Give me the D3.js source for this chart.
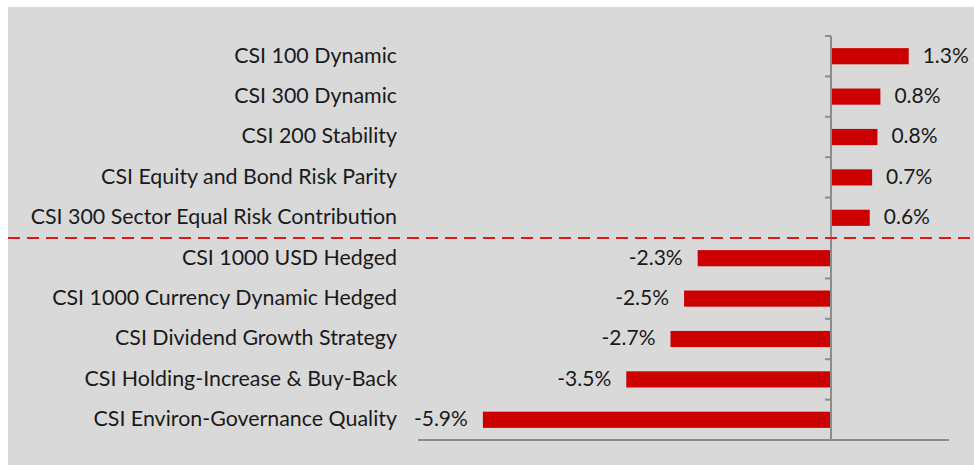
<!DOCTYPE html>
<html>
<head>
<meta charset="utf-8">
<script src="https://cdn.jsdelivr.net/npm/d3@7"></script>
<style>
  html, body { margin: 0; padding: 0; background: #ffffff; }
  svg { display: block; }
  text { font-family: Lato, "Open Sans", sans-serif; fill: #1a1a1a; }
</style>
</head>
<body>
<svg id="chart" width="974" height="465"></svg>
<script>
const categories = [
  "CSI 100 Dynamic",
  "CSI 300 Dynamic",
  "CSI 200 Stability",
  "CSI Equity and Bond Risk Parity",
  "CSI 300 Sector Equal Risk Contribution",
  "CSI 1000 USD Hedged",
  "CSI 1000 Currency Dynamic Hedged",
  "CSI Dividend Growth Strategy",
  "CSI Holding-Increase & Buy-Back",
  "CSI Environ-Governance Quality"
];
const values = [1.30, 0.82, 0.77, 0.68, 0.64, -2.26, -2.49, -2.72, -3.47, -5.90];
const valueLabels = ["1.3%", "0.8%", "0.8%", "0.7%", "0.6%", "-2.3%", "-2.5%", "-2.7%", "-3.5%", "-5.9%"];
const xDomain = [-7, 2];
const dividerAfter = 5; // dashed line between positive and negative groups

const svg = d3.select("#chart");
const W = 974, H = 465;

// grey plot background
svg.append("rect").attr("x", 8).attr("y", 7).attr("width", W - 8).attr("height", H - 7).attr("fill", "#d9d9d9");

const x = d3.scaleLinear().domain(xDomain).range([418, 949]);
const y = d3.scaleBand().domain(categories).range([36, 440]).paddingInner(0.6).paddingOuter(0.3);
const step = y.step();
const yTop = y.range()[0];

// bars
svg.selectAll("rect.bar").data(values).join("rect")
  .attr("class", "bar")
  .attr("x", d => Math.min(x(0), x(d)) + (d > 0 ? 1 : 0))
  .attr("y", (d, i) => y(categories[i]))
  .attr("width", d => Math.abs(x(d) - x(0)))
  .attr("height", y.bandwidth())
  .attr("fill", "#cc0000");

// horizontal axis line
svg.append("line").attr("x1", x.range()[0]).attr("x2", x.range()[1])
  .attr("y1", 440).attr("y2", 440).attr("stroke", "#8c8c8c").attr("stroke-width", 2);

// vertical axis at zero
svg.append("line").attr("x1", x(0)).attr("x2", x(0))
  .attr("y1", yTop).attr("y2", 440).attr("stroke", "#8c8c8c").attr("stroke-width", 2);

// tick marks at category boundaries
const bounds = d3.range(categories.length + 1).map(i => yTop + i * step);
svg.selectAll("line.tick").data(bounds).join("line")
  .attr("class", "tick")
  .attr("x1", x(0) - 6).attr("x2", x(0))
  .attr("y1", d => d).attr("y2", d => d)
  .attr("stroke", "#8c8c8c").attr("stroke-width", 2);

// category labels
svg.selectAll("text.cat").data(categories).join("text")
  .attr("class", "cat")
  .attr("x", 397)
  .attr("y", d => y(d) + y.bandwidth() / 2)
  .attr("dy", "0.3em")
  .attr("text-anchor", "end")
  .attr("font-size", 21.4)
  .text(d => d);

// value labels
svg.selectAll("text.val").data(values).join("text")
  .attr("class", "val")
  .attr("x", d => d >= 0 ? x(d) + 15 : x(d) - 15)
  .attr("y", (d, i) => y(categories[i]) + y.bandwidth() / 2)
  .attr("dy", "0.3em")
  .attr("text-anchor", d => d >= 0 ? "start" : "end")
  .attr("font-size", 21)
  .text((d, i) => valueLabels[i]);

// dashed divider
const divY = yTop + dividerAfter * step;
svg.append("line").attr("x1", 8).attr("x2", W)
  .attr("y1", divY).attr("y2", divY)
  .attr("stroke", "#d91c1c").attr("stroke-width", 2)
  .attr("stroke-dasharray", "12,7");
</script>
</body>
</html>
